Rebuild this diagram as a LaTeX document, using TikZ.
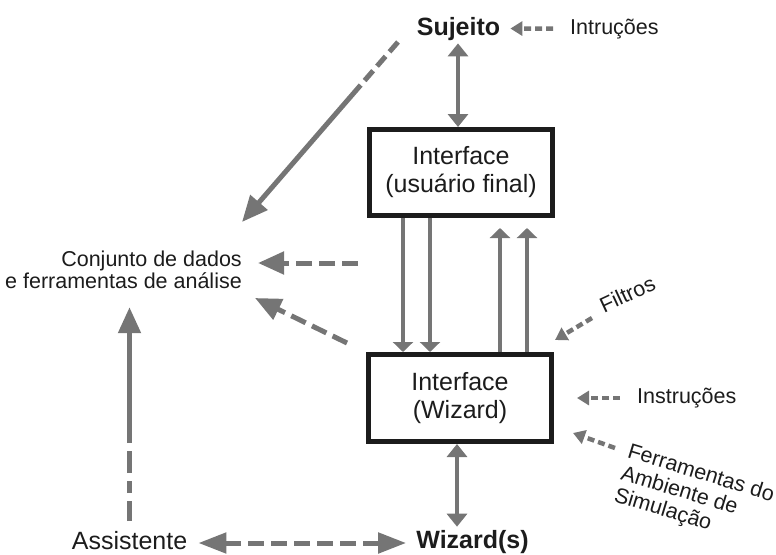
\documentclass[tikz,border=0pt]{standalone}
\usepackage{fontspec}
\setmainfont{Liberation Sans}
\usetikzlibrary{arrows.meta,calc}
\definecolor{arrowgray}{HTML}{757575}
\definecolor{ink}{HTML}{1C1C1C}

\begin{document}
\begin{tikzpicture}[x=1pt,y=-1pt,
  every node/.style={text=ink, inner sep=0pt},
  box/.style={draw=ink, line width=5pt, minimum width=183pt, align=center,
    font=\fontsize{25}{28}\selectfont},
  titlelbl/.style={font=\fontsize{25}{28}\selectfont\bfseries},
  biglbl/.style={font=\fontsize{25}{28}\selectfont},
  lbl/.style={font=\fontsize{21.5}{22}\selectfont},
  conn/.style={draw=arrowgray, line width=5pt},
  bigtip/.style={conn, -{Triangle[length=26pt,width=22pt]}},
  bigdbl/.style={conn, {Triangle[length=28pt,width=20pt]}-{Triangle[length=28pt,width=20pt]}},
  middbl/.style={conn, line width=4.5pt, {Triangle[length=13pt,width=20pt]}-{Triangle[length=13pt,width=20pt]}},
  innertip/.style={conn, line width=4.5pt, -{Triangle[length=10pt,width=20pt]}},
  smalltip/.style={conn, line width=4.5pt, dash pattern=on 7pt off 4pt,
    -{Triangle[length=12pt,width=14pt]}},
  bigdash/.style={dash pattern=on 16pt off 7pt}
]
\useasboundingbox (0,0) rectangle (776,554);

% main blocks
\node[box, minimum height=86pt] (ui) at (461,172.5) {Interface\\(usuário final)};
\node[box, minimum height=87pt] (wiz) at (460,398) {Interface\\(Wizard)};

% actors and labels
\node[titlelbl, anchor=base] (sujeito) at (458.5,35) {Sujeito};
\node[titlelbl, anchor=base] (wizards) at (472.5,548) {Wizard(s)};
\node[biglbl, anchor=base] (assist) at (129.5,549.5) {Assistente};
\node[lbl, anchor=base west] (intrucoes) at (570,34) {Intruções};
\node[lbl, anchor=north east, align=right] (conjunto) at (242,251)
  {Conjunto de dados\\e ferramentas de análise};
\node[lbl, anchor=west] (instr) at (637,398) {Instruções};
\node[lbl, anchor=south west, rotate=25] (filtros) at (604,314) {Filtros};
\node[lbl, anchor=north west, rotate=-17, align=left,
  font=\fontsize{21.5}{23}\selectfont] (ferr) at (631,442)
  {Ferramentas do\\Ambiente de\\Simulação};

% helper coordinates
\coordinate (cS) at (458,0);
\coordinate (cW) at (457,0);
\coordinate (d1) at (403,0);
\coordinate (d2) at (430,0);
\coordinate (u1) at (500,0);
\coordinate (u2) at (527,0);
\coordinate (aw) at (0,543);
\coordinate (hA) at (358,263);
\coordinate (dA) at (347,343);
\coordinate (dB) at (255,298);
\coordinate (sA) at (398,42);
\coordinate (sB) at (242,222);
\coordinate (fA) at (592,318);
\coordinate (fB) at (555,340);
\coordinate (rA) at (615,448);
\coordinate (rB) at (573,433);

% subject <-> user interface
\draw[middbl, shorten <=3pt] (sujeito.south -| cS) -- (ui.north -| cS);
% wizard interface <-> wizards
\draw[middbl, shorten >=3pt] (wiz.south -| cW) -- (wizards.north -| cW);

% flows between the two interfaces
\draw[innertip] (ui.south -| d1) -- (wiz.north -| d1);
\draw[innertip] (ui.south -| d2) -- (wiz.north -| d2);
\draw[innertip, shorten >=10pt] (wiz.north -| u1) -- (ui.south -| u1);
\draw[innertip, shorten >=10pt] (wiz.north -| u2) -- (ui.south -| u2);

% inputs
\draw[smalltip, shorten <=17pt, shorten >=10pt] (intrucoes.west) -- (sujeito.east);
\draw[smalltip] (fA) -- (fB);
\draw[smalltip, shorten <=17pt, shorten >=23pt] (instr.west) -- (wiz.east);
\draw[smalltip] (rA) -- (rB);

% data set and analysis tools
\draw[bigtip, bigdash, shorten >=16pt] (hA) -- (hA -| conjunto.east);
\draw[bigtip, bigdash] (dA) -- (dB);
\draw[bigtip, dash pattern=on 13pt off 6pt on 13pt off 6pt on 13pt off 6pt on 400pt off 1pt]
  (sA) -- (sB);
\draw[bigtip, dash pattern=on 20pt off 8pt on 12pt off 8pt on 22pt off 8pt on 400pt off 1pt,
  shorten <=10pt, shorten >=18pt] (assist.north) -- (assist.north |- conjunto.south);

% assistant <-> wizards
\draw[bigdbl, bigdash, shorten <=11pt, shorten >=10pt] (assist.east |- aw) -- (wizards.west |- aw);
\end{tikzpicture}
\end{document}
